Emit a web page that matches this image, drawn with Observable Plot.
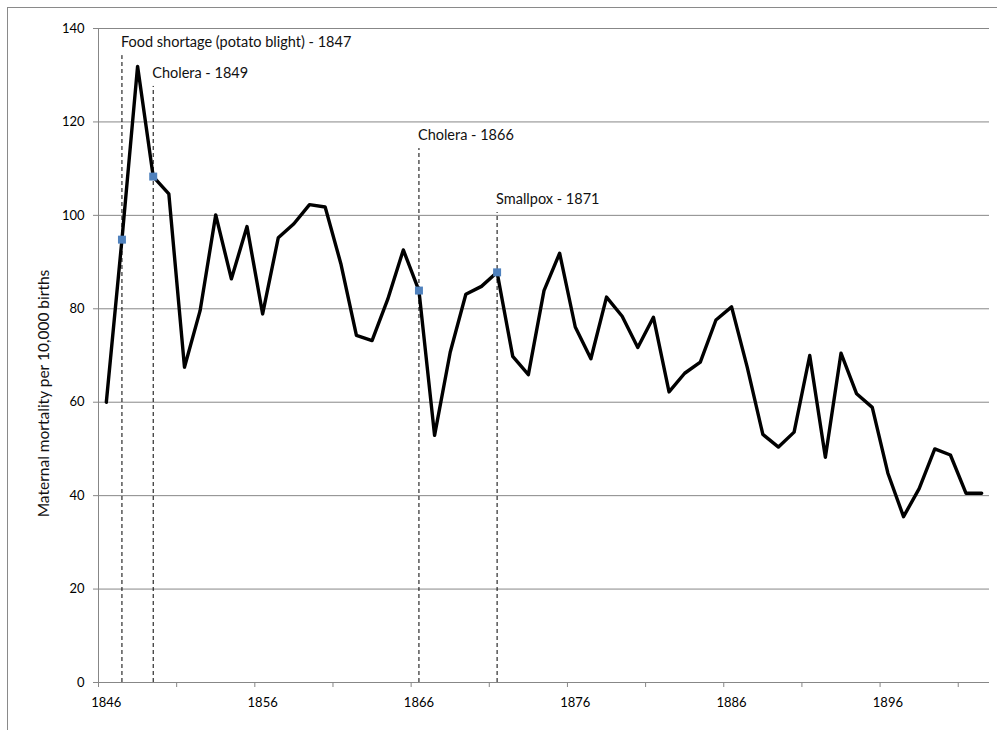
<!DOCTYPE html>
<html>
<head>
<meta charset="utf-8">
<script src="https://cdn.jsdelivr.net/npm/d3@7"></script>
<script src="https://cdn.jsdelivr.net/npm/@observablehq/plot@0.6"></script>
<style>
  html, body { margin: 0; padding: 0; background: #fff; }
  #frame {
    position: absolute; left: 7px; top: 7px; width: 1100px; height: 900px;
    border: 1px solid #8a8a8a; box-sizing: border-box;
  }
  #chart { position: absolute; left: 0; top: 0; }
</style>
</head>
<body>
<div id="frame"></div>
<div id="chart"></div>
<script>
// Annual maternal mortality per 10,000 births, 1846–1902
const years = d3.range(1846, 1903);
const mortality = [
  60.0, 94.8, 131.9, 108.3, 104.6, 67.5, 79.6, 100.1, 86.4, 97.6,
  78.9, 95.2, 98.2, 102.3, 101.8, 89.7, 74.3, 73.2, 82.0, 92.6,
  83.9, 52.9, 70.7, 83.1, 84.8, 87.8, 69.8, 65.9, 83.9, 91.9,
  76.1, 69.3, 82.5, 78.4, 71.7, 78.2, 62.2, 66.2, 68.6, 77.6,
  80.4, 67.5, 53.1, 50.4, 53.6, 70.0, 48.2, 70.5, 61.8, 58.9,
  44.8, 35.5, 41.5, 50.0, 48.7, 40.5, 40.5
];

// Epidemic / famine events marked on the chart
const eventYears = [1847, 1849, 1866, 1871];
const eventLabels = [
  "Food shortage (potato blight) - 1847",
  "Cholera - 1849",
  "Cholera - 1866",
  "Smallpox - 1871"
];
const eventLineTops = [134.2, 127.6, 114.3, 100.6];

// Axis ticks
const yTicks = [0, 20, 40, 60, 80, 100, 120, 140];
const xLabelYears = [1846, 1856, 1866, 1876, 1886, 1896];
const xTickMarks = d3.range(1845.5, 1902, 5);
const yTitle = "Maternal mortality per 10,000 births";

const series = years.map((year, i) => ({year, value: mortality[i]}));
const events = eventYears.map((year, i) => ({
  year,
  label: eventLabels[i],
  top: eventLineTops[i],
  value: mortality[years.indexOf(year)]
}));

const gray = "#878787";

const chart = Plot.plot({
  width: 997,
  height: 730,
  marginLeft: 98,
  marginRight: 8,
  marginTop: 28,
  marginBottom: 48,
  x: {domain: [1845.5, 1902.5]},
  y: {domain: [0, 140]},
  style: {fontFamily: "Lato, 'Open Sans', sans-serif", fontSize: "13px", color: "#000", background: "transparent"},
  marks: [
    Plot.ruleY(yTicks, {stroke: gray, strokeWidth: 1}),
    Plot.ruleX([1845.5], {stroke: gray, strokeWidth: 1}),
    Plot.axisY({ticks: yTicks, tickSize: 5, tickPadding: 9, stroke: gray, label: null, tickFormat: d => `${d}`}),
    Plot.axisX({ticks: xTickMarks, tickSize: 5, tickFormat: () => "", stroke: gray, label: null}),
    Plot.axisX({ticks: xLabelYears, tickSize: 0, tickPadding: 15, tickFormat: d => `${d}`, label: null}),
    Plot.ruleX(events, {x: "year", y1: 0, y2: "top", stroke: "#000", strokeWidth: 1, strokeDasharray: "4,3"}),
    Plot.line(series, {x: "year", y: "value", stroke: "#000", strokeWidth: 3.4}),
    Plot.dot(events, {x: "year", y: "value", symbol: "square", r: 4.5, fill: "#4f81bd", stroke: null}),
    Plot.text(events, {x: "year", y: "top", text: "label", textAnchor: "start", dx: -1, dy: -13, fontSize: 14.5, fill: "#111"}),
    Plot.text([yTitle], {text: d => d, frameAnchor: "left", textAnchor: "middle", rotate: -90, dx: -54, dy: 38, fontSize: 15.5, fill: "#111"})
  ]
});
document.getElementById("chart").append(chart);
</script>
</body>
</html>
